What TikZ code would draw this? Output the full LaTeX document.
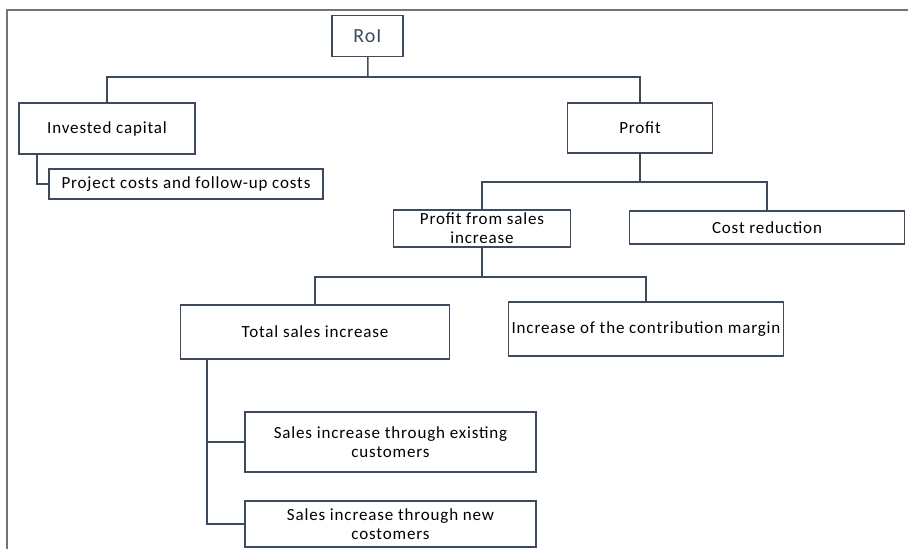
\documentclass[tikz,border=0pt]{standalone}
\usepackage{fontspec}
\setmainfont{Carlito}[LetterSpace=5]
\definecolor{slate}{HTML}{3E4B5F}
\definecolor{framegray}{HTML}{747474}
\tikzset{
  x=1pt,
  y=-1pt,
}
\tikzstyle{box}=[draw=slate,line width=1.4pt,fill=white,align=center,inner sep=1pt]
\tikzstyle{link}=[draw=slate,line width=1.5pt]
\tikzstyle{frame}=[draw=framegray,line width=1.6pt]
\tikzstyle{every node}=[font=\fontsize{17}{19}\selectfont]

\begin{document}
\begin{tikzpicture}
        \useasboundingbox (0,0) rectangle (908,549);
        \draw[frame] (7,549) -- (7,10) -- (908,10);
        \node[box,minimum width=71,minimum height=41,text=slate,font=\fontsize{20}{22}\selectfont] (roi) at (367.5,36) {RoI};
        \node[box,minimum width=176,minimum height=51] (inv) at (107,128.5) {Invested capital};
        \node[box,minimum width=274,minimum height=30] (proj) at (186,184) {Project costs and follow-up costs};
        \node[box,minimum width=145,minimum height=50] (profit) at (640,128) {Profit};
        \node[box,minimum width=177,minimum height=37] (pfs) at (482,228.5) {Profit from sales\\increase};
        \node[box,minimum width=275,minimum height=33] (cost) at (767,227.5) {Cost reduction};
        \node[box,minimum width=269,minimum height=54] (tot) at (315,332) {Total sales increase};
        \node[box,minimum width=275,minimum height=54,inner sep=0pt] (cm) at (646,329) {Increase of the contribution margin};
        \node[box,minimum width=291,minimum height=60] (exist) at (390.5,442) {Sales increase through existing\\customers};
        \node[box,minimum width=291,minimum height=46] (new) at (390.5,524) {Sales increase through new\\costomers};
        \coordinate (j0) at (37,154);
        \coordinate (j1) at (368,77);
        \coordinate (j2) at (640,182);
        \coordinate (j3) at (482,277);
        \coordinate (j4) at (207,359);
        \draw[link] (j0) |- (proj);
        \draw[link] (roi) -- (j1);
        \draw[link] (inv.north) |- (j1) -| (profit.north);
        \draw[link] (profit) -- (j2);
        \draw[link] (pfs.north) |- (j2) -| (cost.north);
        \draw[link] (pfs) -- (j3);
        \draw[link] (tot.north) |- (j3) -| (cm.north);
        \draw[link] (j4) |- (exist);
        \draw[link] (j4) |- (new);
      \end{tikzpicture}
\end{document}
